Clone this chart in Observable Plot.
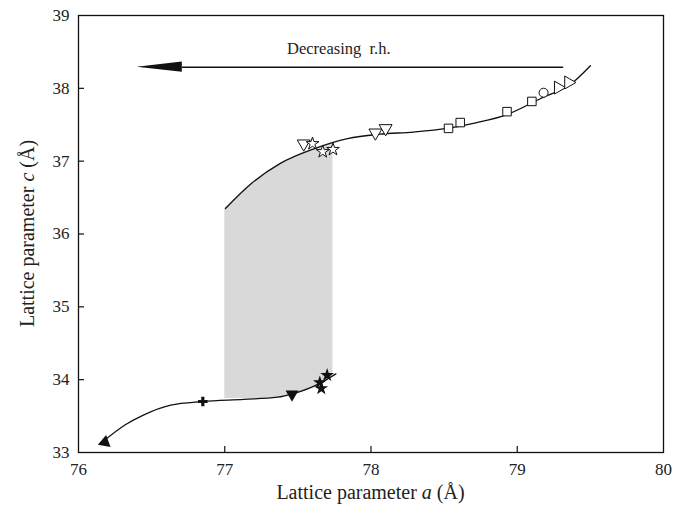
<!DOCTYPE html>
<html><head><meta charset="utf-8">
<script src="https://cdn.jsdelivr.net/npm/d3@7"></script>
<script src="https://cdn.jsdelivr.net/npm/@observablehq/plot@0.6"></script>
<style>body{margin:0;background:#fff}</style>
</head><body><div id="chart"></div>
<script>
const xTicks = [76, 77, 78, 79, 80];
const yTicks = [33, 34, 35, 36, 37, 38, 39];

// fitted curves
const upperA = [77.005, 77.18, 77.38, 77.61, 77.84, 78.06, 78.29, 78.52, 78.70, 78.93, 79.16, 79.38, 79.50];
const upperC = [36.35, 36.69, 36.97, 37.17, 37.31, 37.37, 37.40, 37.45, 37.52, 37.64, 37.86, 38.08, 38.31];
const lowerA = [76.15, 76.32, 76.44, 76.63, 76.85, 77.13, 77.36, 77.47, 77.65, 77.76];
const lowerC = [33.12, 33.38, 33.51, 33.65, 33.70, 33.73, 33.76, 33.81, 33.95, 34.08];

// shaded coexistence region
const shadeA = [77.0, 77.2, 77.4, 77.6, 77.74];
const shadeLow = [33.74, 33.74, 33.77, 33.89, 34.06];
const shadeHigh = [36.35, 36.72, 36.98, 37.16, 37.26];

// open symbols (upper branch)
const openDownTriA = [77.54, 78.03, 78.10];
const openDownTriC = [37.24, 37.39, 37.45];
const openStarA = [77.60, 77.67, 77.74];
const openStarC = [37.24, 37.13, 37.16];
const openSquareA = [78.53, 78.61, 78.93, 79.10];
const openSquareC = [37.45, 37.53, 37.68, 37.82];
const openCircleA = [79.18];
const openCircleC = [37.94];
const openRightTriA = [79.28, 79.35];
const openRightTriC = [38.01, 38.08];

// filled symbols (lower branch)
const fillLeftTriA = [76.18];
const fillLeftTriC = [33.14];
const fillCrossA = [76.85];
const fillCrossC = [33.70];
const fillDownTriA = [77.46];
const fillDownTriC = [33.80];
const fillStarA = [77.65, 77.66, 77.70];
const fillStarC = [33.96, 33.88, 34.06];

// annotation arrow
const arrowLineA = [76.71, 79.31];
const arrowLineC = [38.29, 38.29];
const arrowHeadA = [76.40, 76.71];
const arrowHeadLow = [38.29, 38.22];
const arrowHeadHigh = [38.29, 38.36];
const arrowText = ["Decreasing\u00a0 r.h."];
const arrowTextA = [77.78];
const arrowTextC = [38.55];

const pts = (a, c) => a.map((v, i) => ({a: v, c: c[i]}));
const band = (a, lo, hi) => a.map((v, i) => ({a: v, lo: lo[i], hi: hi[i]}));

const W = 675, H = 513, mL = 78, mR = 12, mT = 15, mB = 61;
const innerW = W - mL - mR, innerH = H - mT - mB;
const font = "Liberation Serif, Times New Roman, serif";
const fmt = d3.format("d");

const chart = Plot.plot({
  width: W, height: H,
  marginLeft: mL, marginRight: mR, marginTop: mT, marginBottom: mB,
  style: {fontFamily: font, fontSize: "17px", color: "#222", background: "white"},
  x: {domain: [76, 80], ticks: xTicks, label: null},
  y: {domain: [33, 39], ticks: yTicks, label: null},
  marks: [
    Plot.areaY(band(shadeA, shadeLow, shadeHigh), {x: "a", y1: "lo", y2: "hi", fill: "#d9d9d9", curve: "monotone-x"}),
    Plot.line(pts(upperA, upperC), {x: "a", y: "c", stroke: "#111", strokeWidth: 1.3, curve: "monotone-x"}),
    Plot.line(pts(lowerA, lowerC), {x: "a", y: "c", stroke: "#111", strokeWidth: 1.3, curve: "monotone-x"}),
    // inward tick marks
    Plot.axisX({ticks: xTicks.slice(1, -1), tickSize: 6, dy: -6, tickFormat: () => "", stroke: "#111", strokeWidth: 1.2}),
    Plot.axisY({ticks: yTicks.slice(1, -1), tickSize: 6, dx: 6, tickFormat: () => "", stroke: "#111", strokeWidth: 1.2}),
    // tick labels
    Plot.axisX({ticks: xTicks, tickSize: 0, tickPadding: 10, tickFormat: fmt, fontSize: 17}),
    Plot.axisY({ticks: yTicks, tickSize: 0, tickPadding: 9, tickFormat: fmt, fontSize: 17}),
    Plot.frame({stroke: "#111", strokeWidth: 1.3}),
    // open symbols
    Plot.dot(pts(openDownTriA, openDownTriC), {x: "a", y: "c", symbol: "triangle", rotate: 180, r: 4.8, fill: "white", stroke: "#111", strokeWidth: 1}),
    Plot.dot(pts(openStarA, openStarC), {x: "a", y: "c", symbol: "star", r: 4, fill: "white", stroke: "#111", strokeWidth: 1}),
    Plot.dot(pts(openSquareA, openSquareC), {x: "a", y: "c", symbol: "square", r: 4.8, fill: "white", stroke: "#111", strokeWidth: 1}),
    Plot.dot(pts(openCircleA, openCircleC), {x: "a", y: "c", symbol: "circle", r: 4.5, fill: "white", stroke: "#111", strokeWidth: 1}),
    Plot.dot(pts(openRightTriA, openRightTriC), {x: "a", y: "c", symbol: "triangle", rotate: 90, r: 4.8, fill: "white", stroke: "#111", strokeWidth: 1}),
    // filled symbols
    Plot.dot(pts(fillLeftTriA, fillLeftTriC), {x: "a", y: "c", symbol: "triangle", rotate: -110, r: 4.8, fill: "#111"}),
    Plot.dot(pts(fillCrossA, fillCrossC), {x: "a", y: "c", symbol: "cross", r: 4, fill: "#111"}),
    Plot.dot(pts(fillDownTriA, fillDownTriC), {x: "a", y: "c", symbol: "triangle", rotate: 180, r: 4.8, fill: "#111"}),
    Plot.dot(pts(fillStarA, fillStarC), {x: "a", y: "c", symbol: "star", r: 4.3, fill: "#111"}),
    // annotation
    Plot.line(pts(arrowLineA, arrowLineC), {x: "a", y: "c", stroke: "#111", strokeWidth: 1.5}),
    Plot.areaY(band(arrowHeadA, arrowHeadLow, arrowHeadHigh), {x: "a", y1: "lo", y2: "hi", fill: "#111"}),
    Plot.text(arrowText.map((t, i) => ({t, a: arrowTextA[i], c: arrowTextC[i]})), {x: "a", y: "c", text: "t", fontSize: 16.5, fill: "#222"})
  ]
});

document.getElementById("chart").appendChild(chart);

// axis titles with italic variables
const svg = d3.select(chart);
const xl = svg.append("text")
  .attr("x", mL + innerW / 2).attr("y", H - 14)
  .attr("text-anchor", "middle").attr("font-size", 20).attr("font-family", font).attr("fill", "#222");
xl.append("tspan").text("Lattice parameter ");
xl.append("tspan").attr("font-style", "italic").text("a");
xl.append("tspan").text(" (Å)");

const yl = svg.append("text")
  .attr("transform", `translate(34,${mT + innerH / 2}) rotate(-90)`)
  .attr("text-anchor", "middle").attr("font-size", 20).attr("font-family", font).attr("fill", "#222");
yl.append("tspan").text("Lattice parameter ");
yl.append("tspan").attr("font-style", "italic").text("c");
yl.append("tspan").text(" (Å)");
</script>
</body></html>
